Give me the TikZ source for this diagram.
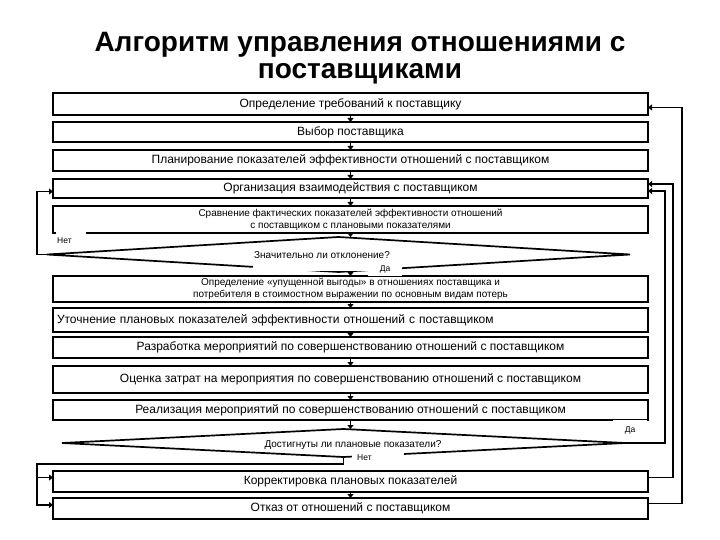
\documentclass[tikz,border=0pt]{standalone}
\usepackage{fontspec}
\setmainfont{Liberation Sans}
\usetikzlibrary{shapes.geometric, arrows.meta, positioning, calc}

\begin{document}
\begin{tikzpicture}[x=1pt, y=-1pt,
    box/.style={rectangle, draw, line width=1.7pt, minimum width=595pt, inner sep=1pt, outer sep=0pt, align=center, font=\fontsize{12}{13}\selectfont},
    smallbox/.style={box, font=\fontsize{10}{12}\selectfont},
    decision/.style={diamond, draw, line width=1.7pt, inner sep=0pt, outer sep=0pt},
    qtext/.style={fill=white, inner sep=1pt, font=\fontsize{10}{11}\selectfont},
    lbl/.style={fill=white, inner sep=1pt, font=\fontsize{8.5}{9}\selectfont},
    arr/.style={line width=1.7pt, -{Triangle[length=4pt,width=6pt]}},
    ]
    \path[use as bounding box, fill=white] (0,0) rectangle (720,540);
    % Title
    \node[font=\fontsize{28}{27}\selectfont\bfseries, align=center] (title) at (360,58) {Алгоритм управления отношениями с\\поставщиками};

    % Nodes
    \node[box, minimum height=22pt] (b1) at (350.5,104) {Определение требований к поставщику};
    \node[box, minimum height=20pt, below=7pt of b1] (b2) {Выбор поставщика};
    \node[box, minimum height=21pt, below=8pt of b2] (b3) {Планирование показателей эффективности отношений с поставщиком};
    \node[box, minimum height=19pt, below=8pt of b3] (b4) {Организация взаимодействия с поставщиком};
    \node[smallbox, minimum height=27pt, below=8pt of b4] (b5) {Сравнение фактических показателей эффективности отношений\\с поставщиком с плановыми показателями};
    \node[decision, minimum width=583pt, minimum height=35pt, below=4pt of b5, xshift=-12pt] (d1) {};
    \node[smallbox, minimum height=26pt, below=4pt of d1, xshift=12pt] (b6) {Определение «упущенной выгоды» в отношениях поставщика и\\потребителя в стоимостном выражении по основным видам потерь};
    \node[box, minimum height=24pt, below=6pt of b6, text width=587pt, align=left] (b7) {Уточнение плановых показателей эффективности отношений с поставщиком};
    \node[box, minimum height=21pt, below=5pt of b7] (b8) {Разработка мероприятий по совершенствованию отношений с поставщиком};
    \node[box, minimum height=27pt, below=8pt of b8] (b9) {Оценка затрат на мероприятия по совершенствованию отношений с поставщиком};
    \node[box, minimum height=20pt, below=7pt of b9] (b10) {Реализация мероприятий по совершенствованию отношений с поставщиком};
    \node[decision, minimum width=563pt, minimum height=28pt, below=9pt of b10, xshift=-7pt] (d2) {};
    \node[box, minimum height=21pt, below=14pt of d2, xshift=7pt] (b11) {Корректировка плановых показателей};
    \node[box, minimum height=21pt, below=6pt of b11] (b12) {Отказ от отношений с поставщиком};

    % Questions and answers
    \node[qtext, anchor=north, text depth=12pt] (q1) at (322,250) {Значительно ли отклонение?};
    \node[qtext] (q2) at (353,445) {Достигнуты ли плановые показатели?};
    \node[lbl, anchor=west, text width=28pt, minimum height=18pt, align=left] (no1) at (56,241) {Нет};
    \node[lbl, minimum width=34pt, minimum height=12pt] (yes1) at (385,269.5) {Да};
    \node[lbl, minimum width=34pt, minimum height=21pt] (yes2) at (630,430) {Да};
    \node[lbl, anchor=west, text width=50pt, minimum height=12pt, align=left] (no2) at (352,458) {\hspace{4pt}Нет};

    % Arrows
    \draw[arr] (b1) -- (b2); \draw[arr] (b2) -- (b3); \draw[arr] (b3) -- (b4);
    \draw[arr] (b4) -- (b5); \draw[arr] (b5.south) -- (b5.south |- d1.north);
    \draw[arr] (b6.north |- d1.south) -- (b6.north);
    \draw[arr] (b6) -- (b7); \draw[arr] (b7) -- (b8); \draw[arr] (b8) -- (b9);
    \draw[arr] (b9) -- (b10); \draw[arr] (b10.south) -- (b10.south |- d2.north);
    \draw[arr] (b11) -- (b12);

    % Feedback loops
    \draw[arr] (d1.west) -- ++(-10pt,0) |- ([yshift=-3pt]b4.west);
    \draw[arr] (d2.east) -- ++(40pt,0) |- ([yshift=-2.5pt]b4.east);
    \draw[arr] ([yshift=4pt]b11.east) -- ++(25pt,0) |- ([yshift=4.5pt]b4.east);
    \draw[arr] ([yshift=5pt]b12.east) -- ++(34pt,0) |- ([yshift=-3.5pt]b1.east);
    \draw[arr] (d2.south) -- ++(0,-7pt) -| ([xshift=-16pt,yshift=4pt]b11.west) -- ([yshift=4pt]b11.west);
    \draw[arr] ([xshift=-16pt,yshift=4pt]b11.west) |- ([yshift=3.5pt]b12.west);
\end{tikzpicture}
\end{document}
